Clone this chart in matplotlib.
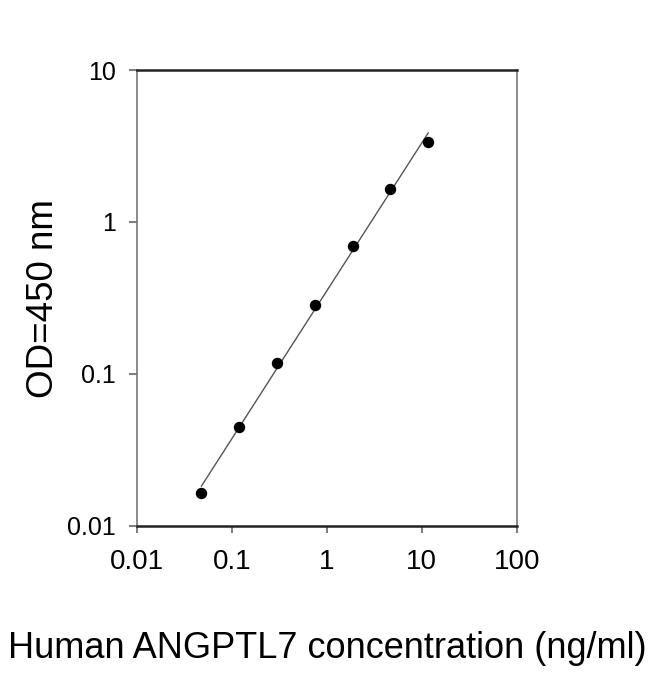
import numpy as np
import matplotlib
matplotlib.use("Agg")
import matplotlib.pyplot as plt
from matplotlib.ticker import FixedLocator, NullLocator

plt.rcParams["font.family"] = ["Liberation Sans", "DejaVu Sans"]

# standard curve
conc = [0.048, 0.12, 0.30, 0.75, 1.875, 4.69, 11.7]
od = [0.0163, 0.0445, 0.117, 0.284, 0.694, 1.64, 3.37]

x_ticks = [0.01, 0.1, 1, 10, 100]
x_tick_labels = ["0.01", "0.1", "1", "10", "100"]
y_ticks = [0.01, 0.1, 1, 10]
y_tick_labels = ["0.01", "0.1", "1", "10"]

x_title = "Human ANGPTL7 concentration (ng/ml)"
y_title = "OD=450 nm"

fig = plt.figure(figsize=(6.5, 6.74), dpi=100)
ax = fig.add_axes([0.2103, 0.22, 0.5847, 0.6761])

ax.set_xscale("log")
ax.set_yscale("log")
ax.set_xlim(0.01, 100)
ax.set_ylim(0.01, 10)

# log-log trend line through the points
lx, ly = np.log10(conc), np.log10(od)
slope, icpt = np.polyfit(lx, ly, 1)
fx = np.array([lx[0], lx[-1]])
ax.plot(10 ** fx, 10 ** (slope * fx + icpt), color="#555555", lw=1.0, zorder=2)
ax.plot(conc, od, "o", color="black", ms=7.2, zorder=3)

ax.xaxis.set_major_locator(FixedLocator(x_ticks))
ax.xaxis.set_minor_locator(NullLocator())
ax.set_xticklabels(x_tick_labels)
ax.yaxis.set_major_locator(FixedLocator(y_ticks))
ax.yaxis.set_minor_locator(NullLocator())
ax.set_yticklabels(y_tick_labels)

ax.tick_params(axis="x", direction="out", length=5, width=1.2, color="#666666",
               labelsize=20, pad=12)
ax.tick_params(axis="y", direction="out", length=6, width=1.2, color="#666666",
               labelsize=18, pad=9)

for side in ("top", "bottom"):
    ax.spines[side].set_color("#222222")
    ax.spines[side].set_linewidth(1.8)
for side in ("left", "right"):
    ax.spines[side].set_color("#777777")
    ax.spines[side].set_linewidth(1.2)

fig.text(327 / 650, 1 - 649 / 674, x_title, ha="center", va="center", fontsize=26)
fig.text(44 / 650, 1 - 299 / 674, y_title, ha="center", va="center", fontsize=26.5,
         rotation=90)

fig.savefig("out.png", dpi=100, facecolor="white")
